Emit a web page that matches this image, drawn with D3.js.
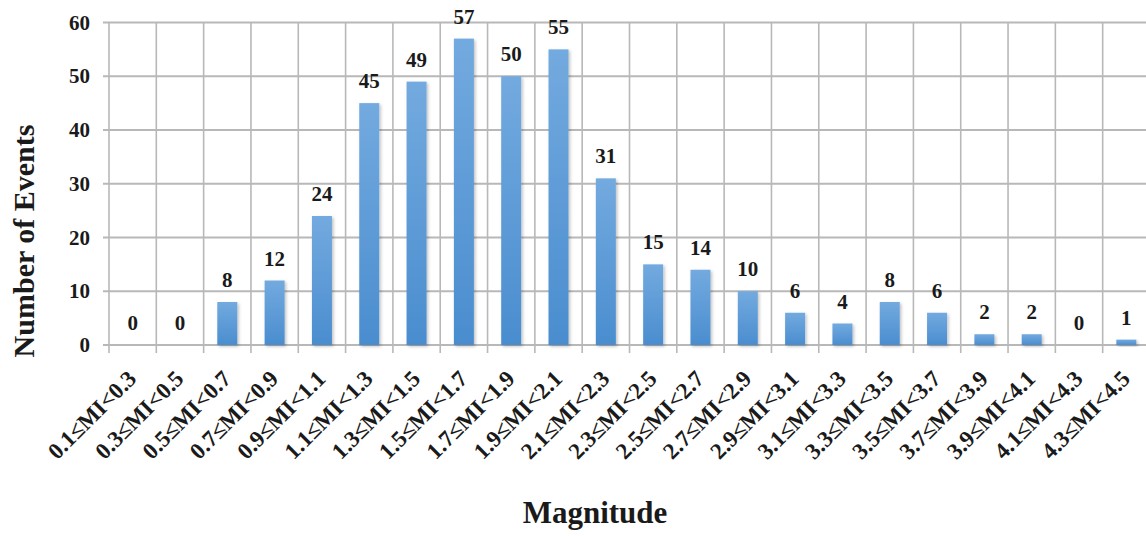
<!DOCTYPE html>
<html><head><meta charset="utf-8">
<script src="https://cdn.jsdelivr.net/npm/d3@7"></script>
<style>body{margin:0;background:#fff}svg{display:block}</style>
</head><body>
<svg id="c" width="1146" height="536"></svg>
<script>
const categories = ["0.1≤MI<0.3","0.3≤MI<0.5","0.5≤MI<0.7","0.7≤MI<0.9","0.9≤MI<1.1","1.1≤MI<1.3","1.3≤MI<1.5","1.5≤MI<1.7","1.7≤MI<1.9","1.9≤MI<2.1","2.1≤MI<2.3","2.3≤MI<2.5","2.5≤MI<2.7","2.7≤MI<2.9","2.9≤MI<3.1","3.1≤MI<3.3","3.3≤MI<3.5","3.5≤MI<3.7","3.7≤MI<3.9","3.9≤MI<4.1","4.1≤MI<4.3","4.3≤MI<4.5"];
const events = [0,0,8,12,24,45,49,57,50,55,31,15,14,10,6,4,8,6,2,2,0,1];
const yTicks = [0,10,20,30,40,50,60];
const xTitle = "Magnitude";
const yTitle = "Number of Events";

const svg = d3.select("#c");
const font = "'Liberation Serif','Times New Roman',serif";
const pLeft = 109, pRight = 1150, pTop = 22.5, pBottom = 345;

const x = d3.scaleBand().domain(categories).range([pLeft, pRight]).paddingInner(0).paddingOuter(0);
const y = d3.scaleLinear().domain([0, 60]).range([pBottom, pTop]);

const defs = svg.append("defs");
const grad = defs.append("linearGradient").attr("id","bg").attr("x1",0).attr("y1",0).attr("x2",0).attr("y2",1);
grad.append("stop").attr("offset","0%").attr("stop-color","#73aadf");
grad.append("stop").attr("offset","100%").attr("stop-color","#4a8dcf");
const f = defs.append("filter").attr("id","sh").attr("x","-30%").attr("y","-10%").attr("width","160%").attr("height","130%");
f.append("feDropShadow").attr("dx",1.5).attr("dy",1.5).attr("stdDeviation",1.5).attr("flood-color","#000").attr("flood-opacity",0.25);

const gridColor = "#b8b8b8";
svg.append("g").selectAll("line").data(yTicks).join("line")
  .attr("x1", pLeft - 6).attr("x2", pRight)
  .attr("y1", d => y(d)).attr("y2", d => y(d))
  .attr("stroke", gridColor).attr("stroke-width", 2);
const bounds = categories.map(c => x(c)).concat([pRight]);
svg.append("g").selectAll("line").data(bounds).join("line")
  .attr("x1", d => d).attr("x2", d => d)
  .attr("y1", pTop).attr("y2", pBottom + 8)
  .attr("stroke", gridColor).attr("stroke-width", 1.6);

const yAxis = svg.append("g").attr("transform", `translate(${pLeft - 6},0)`)
  .call(d3.axisLeft(y).tickValues(yTicks).tickSize(0).tickPadding(13));
yAxis.select(".domain").remove();
yAxis.selectAll("text").attr("font-family", font).attr("font-weight","bold").attr("font-size", 21).attr("fill","#1a1a1a");

const bw = 20;
svg.append("g").selectAll("rect").data(events).join("rect")
  .attr("x", (d,i) => x(categories[i]) + x.bandwidth()/2 - bw/2)
  .attr("width", bw)
  .attr("y", d => y(d))
  .attr("height", d => Math.max(0, y(0) - y(d)))
  .attr("fill", "url(#bg)")
  .attr("filter", "url(#sh)");

svg.append("g").selectAll("text").data(events).join("text")
  .attr("x", (d,i) => x(categories[i]) + x.bandwidth()/2)
  .attr("y", d => y(d) - 15)
  .attr("text-anchor","middle")
  .attr("font-family", font).attr("font-weight","bold").attr("font-size", 21).attr("fill","#1a1a1a")
  .text(d => d);

svg.append("g").selectAll("text").data(categories).join("text")
  .attr("transform", c => `translate(${x(c) + x.bandwidth()/2 + 5},${pBottom + 35}) rotate(-45)`)
  .attr("text-anchor","end")
  .attr("font-family", font).attr("font-weight","bold").attr("font-size", 23).attr("fill","#1a1a1a")
  .text(c => c);

svg.append("text").attr("x", 595).attr("y", 523).attr("text-anchor","middle")
  .attr("font-family", font).attr("font-weight","bold").attr("font-size", 31).attr("fill","#1a1a1a")
  .text(xTitle);
svg.append("text").attr("transform","translate(34,241) rotate(-90)").attr("text-anchor","middle")
  .attr("font-family", font).attr("font-weight","bold").attr("font-size", 30).attr("fill","#1a1a1a")
  .text(yTitle);
</script>
</body></html>
